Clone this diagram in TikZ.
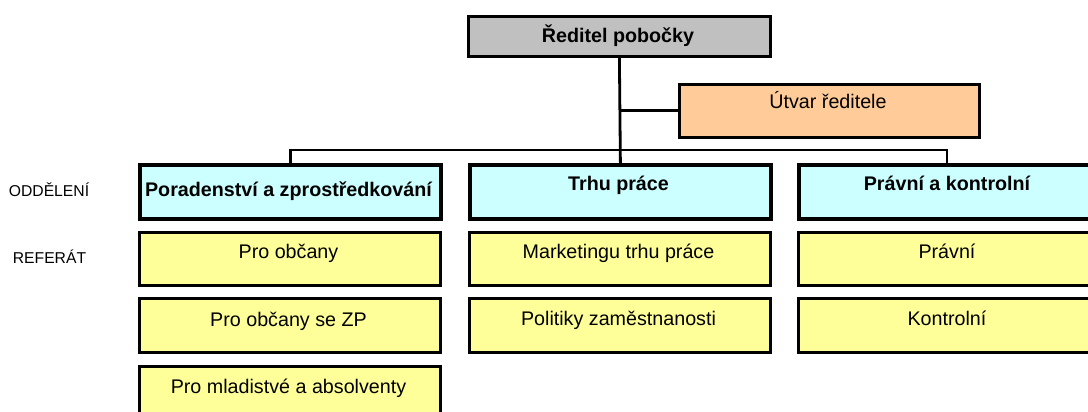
\documentclass[tikz,border=0pt]{standalone}
\usepackage{fontspec}
\setmainfont{Liberation Sans}
\definecolor{dirgray}{HTML}{C0C0C0}
\definecolor{peach}{HTML}{FFCC99}
\definecolor{lcyan}{HTML}{CCFFFF}
\definecolor{lyellow}{HTML}{FFFF99}
\tikzset{
  box/.style={draw=black, rectangle, inner sep=0pt, anchor=north west},
  dirbox/.style={box, fill=dirgray, line width=2.8pt},
  utvbox/.style={box, fill=peach, line width=2.8pt},
  deptbox/.style={box, fill=lcyan, line width=3.8pt},
  refbox/.style={box, fill=lyellow, line width=2.8pt},
  btxt/.style={anchor=base, inner sep=0pt, font=\fontsize{19.7}{22}\selectfont\bfseries},
  rtxt/.style={anchor=base, inner sep=0pt, font=\fontsize{19.7}{22}\selectfont},
  side/.style={anchor=base, inner sep=0pt, font=\fontsize{15.7}{18}\selectfont},
  conn/.style={draw=black, line width=2.8pt},
}
\begin{document}
\begin{tikzpicture}[x=1pt,y=-1pt]
\useasboundingbox (0,0) rectangle (1088,412);
% director
\node[dirbox, minimum width=302pt, minimum height=40pt] (dir) at (467,15) {};
\node[btxt] (dirt) at (618,43) {Ředitel pobočky};
% utvar
\node[utvbox, minimum width=300pt, minimum height=53pt] (utv) at (678,83) {};
\node[rtxt] (utvt) at (828,109) {Útvar ředitele};
% departments
\node[deptbox, minimum width=301pt, minimum height=54pt] (d1) at (138,163) {};
\node[deptbox, minimum width=301pt, minimum height=54pt] (d2) at (468,163) {};
\node[deptbox, minimum width=295pt, minimum height=54pt] (d3) at (797,163) {};
\node[btxt] (d1t) at (288.5,196) {Poradenství a zprostředkování};
\node[btxt] (d2t) at (618.5,190) {Trhu práce};
\node[btxt] (d3t) at (947,190) {Právní a kontrolní};
% referaty
\node[refbox, minimum width=301pt, minimum height=53pt] (r11) at (138,231) {};
\node[refbox, minimum width=301pt, minimum height=54pt] (r12) at (138,297) {};
\node[refbox, minimum width=301pt, minimum height=50pt] (r13) at (138,365) {};
\node[refbox, minimum width=301pt, minimum height=53pt] (r21) at (468,231) {};
\node[refbox, minimum width=301pt, minimum height=54pt] (r22) at (468,297) {};
\node[refbox, minimum width=295pt, minimum height=53pt] (r31) at (797,231) {};
\node[refbox, minimum width=295pt, minimum height=54pt] (r32) at (797,297) {};
\node[rtxt] (r11t) at (288.5,258) {Pro občany};
\node[rtxt] (r12t) at (288.5,326) {Pro občany se ZP};
\node[rtxt] (r13t) at (288.5,393) {Pro mladistvé a absolventy};
\node[rtxt] (r21t) at (618.5,258) {Marketingu trhu práce};
\node[rtxt] (r22t) at (618.5,325) {Politiky zaměstnanosti};
\node[rtxt] (r31t) at (947,258) {Právní};
\node[rtxt] (r32t) at (947,325) {Kontrolní};
% side labels
\node[side] (odd) at (49,196) {ODDĚLENÍ};
\node[side] (ref) at (49.5,263) {REFERÁT};
% connectors
\coordinate (bus) at (618,150);
\draw[conn] (dir.south) -- (d2.north);
\draw[conn] (dir.south |- utv.west) -- (utv.west);
\draw[conn] (d1.north) -- (d1.north |- bus) -- (947,150) -- (947,163);
\end{tikzpicture}
\end{document}
